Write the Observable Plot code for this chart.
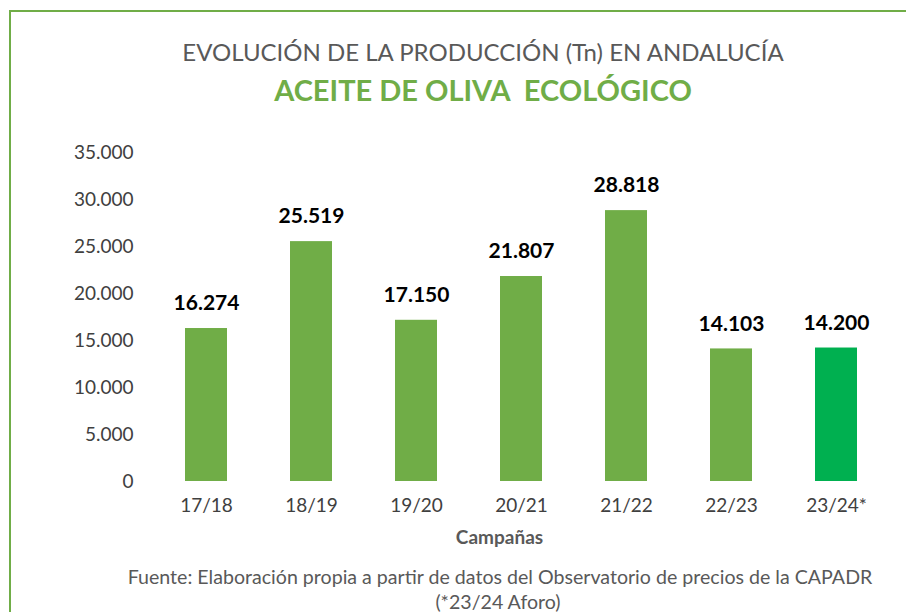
<!DOCTYPE html>
<html>
<head>
<meta charset="utf-8">
<script src="https://cdn.jsdelivr.net/npm/d3@7"></script>
<script src="https://cdn.jsdelivr.net/npm/@observablehq/plot@0.6"></script>
<style>
  html, body { margin: 0; padding: 0; background: #fff; overflow: hidden; }
  #wrap { position: relative; width: 906px; height: 612px; overflow: hidden; font-family: Lato, "Open Sans", sans-serif; }
  #frame { position: absolute; left: 9px; top: 10px; width: 897px; height: 602px; border-left: 2px solid #70AD47; border-top: 2px solid #70AD47; box-sizing: border-box; }
  .t { position: absolute; left: 0; width: 966px; text-align: center; white-space: nowrap; }
  #t1 { top: 37px; font-size: 24px; color: #595959; }
  #t2 { top: 72px; font-size: 29px; font-weight: bold; color: #70AD47; }
  #chart { position: absolute; left: 0; top: 110px; }
  #cap1 { top: 565px; font-size: 19.6px; color: #595959; left: 0; width: 1000px; }
  #cap2 { top: 590px; font-size: 19.6px; color: #595959; left: 0; width: 996px; }
</style>
</head>
<body>
<div id="wrap">
  <div id="frame"></div>
  <div class="t" id="t1">EVOLUCIÓN DE LA PRODUCCIÓN (Tn) EN ANDALUCÍA</div>
  <div class="t" id="t2">ACEITE DE OLIVA&nbsp; ECOLÓGICO</div>
  <div id="chart"></div>
  <div class="t" id="cap1">Fuente: Elaboración propia a partir de datos del Observatorio de precios de la CAPADR</div>
  <div class="t" id="cap2">(*23/24 Aforo)</div>
</div>
<script>
const campaigns = ["17/18", "18/19", "19/20", "20/21", "21/22", "22/23", "23/24*"];
const production = [16274, 25519, 17150, 21807, 28818, 14103, 14200];
const barColors = ["#70AD47", "#70AD47", "#70AD47", "#70AD47", "#70AD47", "#70AD47", "#00B050"];
const yTicks = [0, 5000, 10000, 15000, 20000, 25000, 30000, 35000];

const data = campaigns.map((c, i) => ({campaign: c, value: production[i], color: barColors[i]}));
const fmt = v => d3.format(",")(v).replace(/,/g, ".");

const chart = Plot.plot({
  width: 906,
  height: 460,
  marginLeft: 152,
  marginRight: 16,
  marginTop: 42,
  marginBottom: 89,
  style: { fontFamily: "Lato, 'Open Sans', sans-serif", fontSize: "19px", color: "#404040", background: "transparent", overflow: "visible" },
  x: { domain: campaigns, paddingInner: 0.6, paddingOuter: 0.3, label: null },
  y: { domain: [0, 35000], label: null },
  marks: [
    Plot.gridY(yTicks, { stroke: "#BFBFBF", strokeOpacity: 1, x1: 152, x2: 893 }),
    Plot.axisY(yTicks, { tickSize: 0, tickPadding: 19, tickFormat: fmt, label: null, fontSize: 19, fill: "#404040" }),
    Plot.axisX({ tickSize: 0, tickPadding: 17, label: null, fontSize: 19, fill: "#404040" }),
    Plot.barY(data, { x: "campaign", y: "value", fill: "color" }),
    Plot.ruleY([0], { stroke: "#BFBFBF", x1: 152, x2: 893 }),
    Plot.ruleX([0], { frameAnchor: "left", stroke: "#BFBFBF", y1: 0, y2: 35000 }),
    Plot.text(data, { x: "campaign", y: "value", text: d => fmt(d.value), dy: -25, fontWeight: "bold", fontSize: 21, fill: "#000" }),
    Plot.text(["Campañas"], { frameAnchor: "bottom", lineAnchor: "middle", dx: -22, dy: 56, fontWeight: "bold", fontSize: 19, fill: "#595959" })
  ]
});
document.getElementById("chart").appendChild(chart);
</script>
</body>
</html>
